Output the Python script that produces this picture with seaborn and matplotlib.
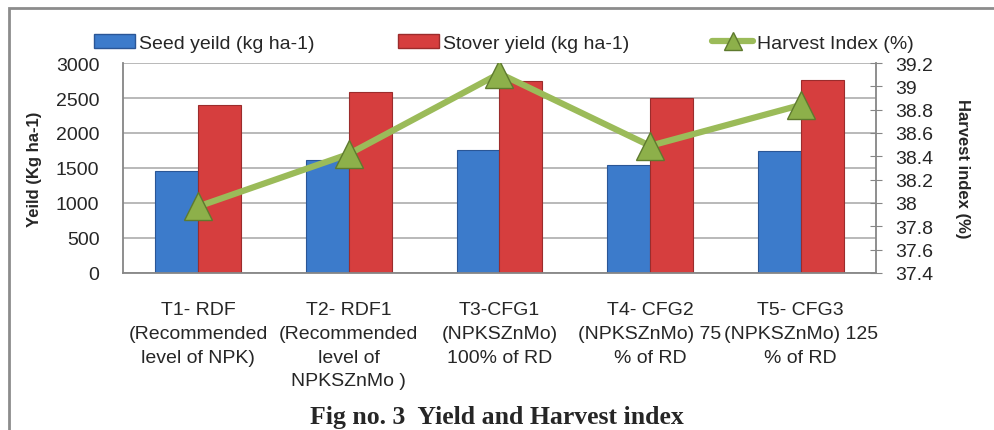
import matplotlib.pyplot as plt
import matplotlib.patches as mpatches
import numpy as np
import pandas as pd
import seaborn as sns

treatments = [
    'T1- RDF\n(Recommended\nlevel of NPK)',
    'T2- RDF1\n(Recommended\nlevel of\nNPKSZnMo )',
    'T3-CFG1\n(NPKSZnMo)\n100% of RD',
    'T4- CFG2\n(NPKSZnMo) 75\n% of RD',
    'T5- CFG3\n(NPKSZnMo) 125\n% of RD',
]
seed_yield = [1453, 1610, 1760, 1547, 1740]
stover_yield = [2400, 2581, 2747, 2500, 2757]
harvest_index = [37.97, 38.42, 39.11, 38.49, 38.84]
hi_ticks = [37.4, 37.6, 37.8, 38.0, 38.2, 38.4, 38.6, 38.8, 39.0, 39.2]

seed_name = 'Seed yeild (kg ha-1)'
stover_name = 'Stover yield (kg ha-1)'
hi_name = 'Harvest Index (%)'

df = pd.DataFrame({
    'Treatment': treatments * 2,
    'Yield': seed_yield + stover_yield,
    'Type': [seed_name] * len(treatments) + [stover_name] * len(treatments),
})

sns.set_style('white')
plt.rcParams['font.family'] = ['Liberation Sans', 'DejaVu Sans']

fig = plt.figure(figsize=(9.95, 4.31), dpi=100)
ax = fig.add_axes([0.1236, 0.3643, 0.7568, 0.4872])

blue = '#3C7BCB'
red = '#D63E3E'
green = '#9BBB59'

sns.barplot(data=df, x='Treatment', y='Yield', hue='Type', palette=[blue, red],
            width=0.57, saturation=1, ax=ax, legend=False)
for i, bar in enumerate(ax.patches):
    bar.set_edgecolor('#2A5696' if i < len(treatments) else '#9B2C2C')
    bar.set_linewidth(0.8)

ax.set_ylim(0, 3000)
ax.set_yticks(range(0, 3001, 500))
ax.set_xlim(-0.5, 4.5)
ax.yaxis.grid(True, color='#A6A6A6', lw=1.1)
ax.set_axisbelow(True)
for side in ['top', 'right']:
    ax.spines[side].set_visible(False)
for side in ['left', 'bottom']:
    ax.spines[side].set_color('#868686')
    ax.spines[side].set_linewidth(1.3)
ax.tick_params(axis='y', length=0, labelsize=14, pad=17)
ax.tick_params(axis='x', length=0, labelsize=14, pad=20)
for lab in ax.get_xticklabels():
    lab.set_multialignment('center')
    lab.set_linespacing(1.53)
ax.set_xlabel('')
ax.set_ylabel('Yeild (Kg ha-1)', fontsize=12, fontweight='bold', labelpad=10)

ax2 = ax.twinx()
ax2.plot(np.arange(len(treatments)), harvest_index, color=green, lw=4.5,
         marker='^', markersize=20, markerfacecolor='#8DB04A',
         markeredgecolor='#5E7A2E', markeredgewidth=1, label=hi_name)
ax2.set_ylim(37.4, 39.2)
ax2.set_yticks(hi_ticks)
ax2.set_yticklabels([f'{v:g}' for v in hi_ticks])
for side in ['top', 'left', 'bottom']:
    ax2.spines[side].set_visible(False)
ax2.spines['right'].set_color('#868686')
ax2.spines['right'].set_linewidth(1.3)
ax2.tick_params(axis='y', direction='inout', length=8, color='#868686',
                labelsize=14, pad=10)
ax2.set_ylabel('Harvest index (%)', fontsize=12, fontweight='bold',
               rotation=-90, labelpad=26)

handles = [
    mpatches.Patch(facecolor=blue, edgecolor='#2A5696', label=seed_name),
    mpatches.Patch(facecolor=red, edgecolor='#9B2C2C', label=stover_name),
    plt.Line2D([], [], color=green, lw=4.5, marker='^', markersize=13,
               markerfacecolor='#8DB04A', markeredgecolor='#5E7A2E', label=hi_name),
]
fig.legend(handles=handles, loc='center', bbox_to_anchor=(504 / 995, 1 - 44 / 431),
           ncol=3, frameon=False, fontsize=14, handlelength=2.1,
           handletextpad=0.2, columnspacing=4.3)

fig.text(497 / 995, 1 - 418 / 431, 'Fig no. 3  Yield and Harvest index',
         ha='center', va='center', fontsize=18.5, fontweight='bold',
         family=['Liberation Serif', 'DejaVu Serif'])

frame = mpatches.Rectangle((9 / 995, -0.1), 1.1, (431 - 9) / 431 + 0.1,
                           transform=fig.transFigure, fill=False,
                           edgecolor='#8C8C8C', lw=2)
fig.patches.append(frame)

fig.savefig('out.png', dpi=100)
